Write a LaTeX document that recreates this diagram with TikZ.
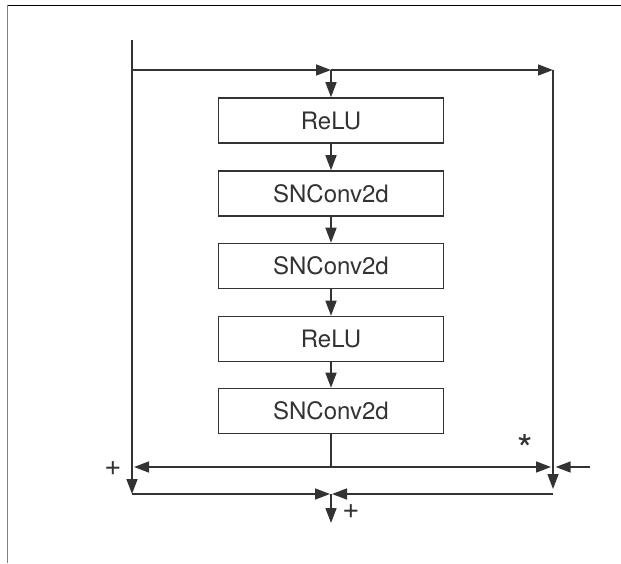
\documentclass[tikz,border=0pt]{standalone}
\usepackage{fontspec}
\setmainfont{TeX Gyre Heros}
\usetikzlibrary{arrows.meta}
\definecolor{ink}{HTML}{333333}
\tikzset{
  blk/.style={draw=ink, line width=1.3pt, minimum width=6.75cm, minimum height=1.35cm,
              font=\fontsize{20.5}{24}\selectfont, text=ink, inner sep=0pt},
  flow/.style={-{Triangle[length=4.5mm, width=3.3mm]}, line width=1.3pt, ink},
  wire/.style={line width=1.3pt, ink},
  lbl/.style={font=\fontsize{25}{28}\selectfont, text=ink, inner sep=0pt},
  frame/.style={line width=0.7pt}
}

\begin{document}
\begin{tikzpicture}[x=0.03cm, y=-0.03cm]
  \useasboundingbox (0,0) rectangle (621,563);
  \draw[frame, black] (7,5) -- (621,5);
  \draw[frame, gray] (7,5) -- (7,563);

  \node[blk] (b1) at (331,120.5) {ReLU};
  \node[blk] (b2) at (331,193.5) {SNConv2d};
  \node[blk] (b3) at (331,266) {SNConv2d};
  \node[blk] (b4) at (331,339) {ReLU};
  \node[blk] (b5) at (331,411) {SNConv2d};
  \foreach \a/\b in {b1/b2, b2/b3, b3/b4, b4/b5} \draw[flow] (\a.south) -- (\b.north);

  \coordinate (in) at (132,40);
  \coordinate (split) at (331,70);
  \coordinate (tr) at (553,70);
  \coordinate (mid) at (331,467);
  \coordinate (bl) at (132,494);
  \coordinate (br) at (553,494);
  \coordinate (sum) at (331,494);
  \coordinate (out) at (331,523);
  \coordinate (gain) at (590,467);

  % skip path and residual branch
  \draw[flow] (in) -- (bl);
  \draw[flow] (in |- split) -- (split);
  \draw[flow] (split) -- (tr);
  \draw[flow] (split) -- (b1.north);
  \draw[flow, shorten >=1.5mm] (tr) -- (br);
  \draw[wire] (b5.south) -- (mid);
  \draw[flow, shorten >=0.6mm] (mid) -- (bl |- mid);
  \draw[flow, shorten >=0.6mm] (mid) -- (br |- mid);
  \draw[flow, shorten >=0.8mm] (gain) -- (br |- mid);
  \draw[flow, shorten >=0.3mm] (bl) -- (sum);
  \draw[flow, shorten >=0.3mm] (br) -- (sum);
  \draw[flow] (sum) -- (out);

  \node[lbl] (plusl) at (113,469) {+};
  \node[lbl, font=\fontsize{34}{36}\selectfont] (star) at (525,449) {*};
  \node[lbl] (plusb) at (351,512) {+};
\end{tikzpicture}
\end{document}
